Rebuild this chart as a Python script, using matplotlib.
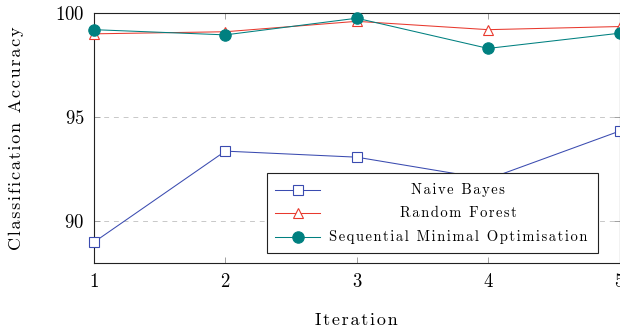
import matplotlib
matplotlib.use("Agg")
import matplotlib.pyplot as plt
from matplotlib.lines import Line2D
from matplotlib.offsetbox import (AnchoredOffsetbox, DrawingArea, HPacker,
                                  TextArea, VPacker)

plt.rcParams["font.family"] = ["cmr10", "DejaVu Serif"]
plt.rcParams["axes.formatter.use_mathtext"] = True
plt.rcParams["mathtext.fontset"] = "cm"

iterations = [1, 2, 3, 4, 5]
naive_bayes = [89.0, 93.37, 93.08, 92.03, 94.33]
random_forest = [99.0, 99.1, 99.6, 99.2, 99.35]
smo = [99.2, 98.95, 99.75, 98.3, 99.03]

labels = ["Naive Bayes", "Random Forest", "Sequential Minimal Optimisation"]
colors = ["#3a4bb0", "#e8392e", "#008080"]
markers = ["s", "^", "o"]
marker_sizes = [7.6, 6.6, 8.2]
marker_faces = ["white", "white", "#008080"]
series = [naive_bayes, random_forest, smo]


def tracked(s, gap="\u200a"):
    # loose letter spacing
    return gap.join(s)


fig = plt.figure(figsize=(6.2, 3.29), dpi=100)
ax = fig.add_axes([94 / 620, 66 / 329, 525.5 / 620, 250 / 329])

for y, c, m, ms, fc in zip(series, colors, markers, marker_sizes, marker_faces):
    ax.plot(iterations, y, color=c, lw=0.75, marker=m, ms=ms,
            mfc=fc, mec=c, mew=0.8, clip_on=False, zorder=3)

ax.set_xlim(1, 5)
ax.set_ylim(88, 100)
ax.set_xticks(iterations)
ax.set_yticks([90, 95, 100])
ax.grid(axis="y", color="#c8c8c8", ls=(0, (5, 5)), lw=0.7)
ax.set_axisbelow(True)
for sp in ax.spines.values():
    sp.set_linewidth(0.8)
    sp.set_color("#222222")
ax.tick_params(direction="in", length=4, width=0.7, color="#a0a0a0",
               top=True, right=True, labelsize=13.5, pad=7)

ax.set_xlabel(tracked("Iteration"), fontsize=13, labelpad=15.5)
ax.set_ylabel(tracked("Classification Accuracy"), fontsize=13, labelpad=22)

# legend box, labels centred in a fixed-width column (width in pixels)
rows = []
for lab, c, m, ms, fc in zip(labels, colors, markers, marker_sizes, marker_faces):
    da = DrawingArea(32.5, 12, 0, 0)
    da.add_artist(Line2D([0, 32.5], [6, 6], color=c, lw=0.75))
    da.add_artist(Line2D([16.2], [6], marker=m, ms=ms, mfc=fc, mec=c,
                         mew=0.8, color=c))
    ta = TextArea(tracked(lab), textprops=dict(size=10.5))
    cell = VPacker(children=[ta], width=263, align="center", pad=0, sep=0)
    rows.append(HPacker(children=[da, cell], align="center", pad=0, sep=4.3))
box = VPacker(children=rows, align="left", pad=0, sep=4.9)
leg = AnchoredOffsetbox(loc="upper left", child=box, pad=0.6, borderpad=0,
                        frameon=True, prop=dict(size=10),
                        bbox_to_anchor=(173 / 525.5, 90 / 250),
                        bbox_transform=ax.transAxes)
leg.patch.set_edgecolor("#222222")
leg.patch.set_linewidth(0.8)
leg.set_zorder(5)
ax.add_artist(leg)

fig.savefig("out.png", dpi=100)
